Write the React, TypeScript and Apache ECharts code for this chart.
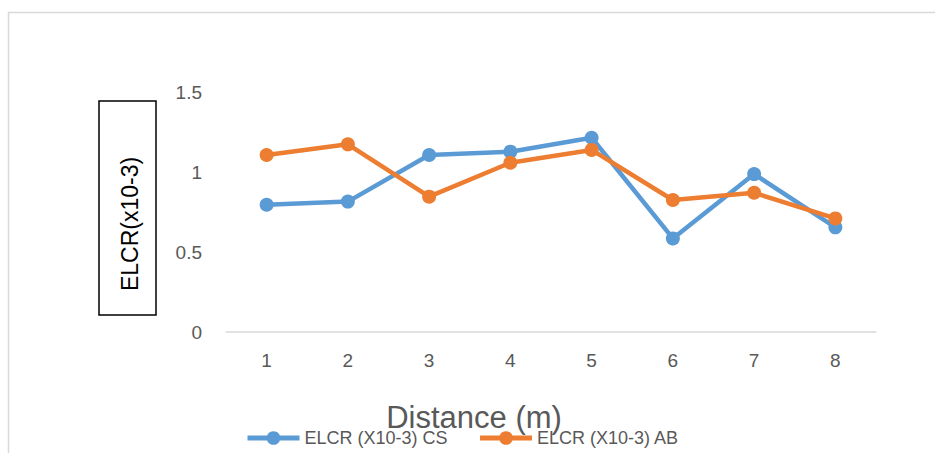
import React, { useEffect, useRef } from "react";
import * as echarts from "echarts";

// Distance along the transect (m)
const distances = ["1", "2", "3", "4", "5", "6", "7", "8"];
// Excess lifetime cancer risk (x10^-3)
const elcrCS = [0.795, 0.815, 1.106, 1.127, 1.214, 0.585, 0.987, 0.654];
const elcrAB = [1.106, 1.173, 0.846, 1.058, 1.138, 0.825, 0.87, 0.71];
const seriesNames = ["ELCR (X10-3) CS", "ELCR (X10-3) AB"];
const yTicks = { min: 0, max: 1.5, step: 0.5 };

const BLUE = "#5b9bd5";
const ORANGE = "#ed7d31";
const GREY_TEXT = "#595959";
const FONT = "'Liberation Sans', Arial, sans-serif";

export default function App() {
  const ref = useRef<HTMLDivElement>(null);

  useEffect(() => {
    if (!ref.current) return;
    const chart = echarts.init(ref.current, undefined, { renderer: "svg" });

    const lineSeries = (name: string, data: number[], color: string) => ({
      name,
      type: "line",
      data,
      symbol: "circle",
      symbolSize: 14,
      lineStyle: { color, width: 4.5 },
      itemStyle: { color },
      emphasis: { disabled: true },
    });

    chart.setOption({
      animation: false,
      backgroundColor: "#ffffff",
      grid: { left: 226, right: 59, top: 92, bottom: 121, containLabel: false },
      xAxis: {
        type: "category",
        data: distances,
        boundaryGap: true,
        axisLine: { lineStyle: { color: "#d9d9d9", width: 1.5 } },
        axisTick: { show: false },
        axisLabel: { color: GREY_TEXT, fontSize: 19, fontFamily: FONT, margin: 19 },
      },
      yAxis: {
        type: "value",
        min: yTicks.min,
        max: yTicks.max,
        interval: yTicks.step,
        axisLine: { show: false },
        axisTick: { show: false },
        splitLine: { show: false },
        axisLabel: { color: GREY_TEXT, fontSize: 19, fontFamily: FONT, margin: 24 },
      },
      legend: {
        left: 245,
        top: 429,
        itemWidth: 52,
        itemHeight: 17,
        itemGap: 30,
        padding: 0,
        lineStyle: { width: 5 },
        textStyle: { color: GREY_TEXT, fontSize: 18, fontFamily: FONT },
        data: seriesNames,
      },
      graphic: [
        {
          type: "rect",
          silent: true,
          shape: { x: 8.5, y: 12.5, width: 2000, height: 2000 },
          style: { fill: "none", stroke: "#d9d9d9", lineWidth: 1.5 },
        },
        {
          type: "rect",
          silent: true,
          shape: { x: 99, y: 101, width: 57, height: 214 },
          style: { fill: "#ffffff", stroke: "#000000", lineWidth: 1.5 },
        },
        {
          type: "text",
          silent: true,
          x: 130,
          y: 224,
          rotation: Math.PI / 2,
          style: {
            text: "ELCR(x10-3)",
            fontSize: 23,
            fontFamily: FONT,
            fill: "#000000",
            textAlign: "center",
            textVerticalAlign: "middle",
          },
        },
        {
          type: "text",
          silent: true,
          x: 474,
          y: 417,
          style: {
            text: "Distance (m)",
            fontSize: 31,
            fontFamily: FONT,
            fill: GREY_TEXT,
            textAlign: "center",
            textVerticalAlign: "middle",
          },
        },
      ],
      series: [
        lineSeries(seriesNames[0], elcrCS, BLUE),
        lineSeries(seriesNames[1], elcrAB, ORANGE),
      ],
    });

    return () => chart.dispose();
  }, []);

  return (
    <div
      ref={ref}
      style={{ position: "absolute", left: 0, top: 0, width: 935, height: 453 }}
    />
  );
}
